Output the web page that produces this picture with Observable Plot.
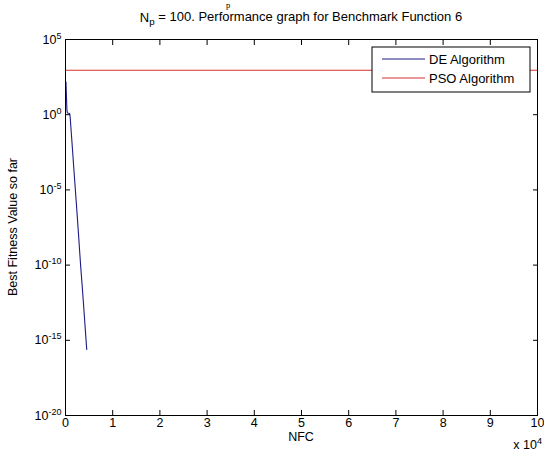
<!DOCTYPE html>
<html><head><meta charset="utf-8">
<script src="https://cdn.jsdelivr.net/npm/d3@7"></script>
<script src="https://cdn.jsdelivr.net/npm/@observablehq/plot@0.6"></script>
<style>
body{margin:0;background:#fff}
#chart svg{display:block;font-family:"Liberation Sans",Arial,sans-serif}
</style>
</head><body><div id="chart"></div>
<script>
const seriesNames = ["DE Algorithm", "PSO Algorithm"];
const seriesColors = ["#1c1c86", "#d63232"];
const deNFC = [100, 200, 300, 400, 900, 1000, 1250, 1500, 1750, 2000, 2250, 2500, 2750, 3000, 3250, 3500, 3750, 4000, 4250, 4500];
const deValues = [150, 16, 2.0, 1.3, 1.2, 0.6, 0.05, 4e-3, 3e-4, 2.5e-5, 2e-6, 1.6e-7, 1.2e-8, 8e-10, 6e-11, 6e-12, 5e-13, 4e-14, 3e-15, 2.5e-16];
const psoNFC = [0, 100000];
const psoValues = [900, 900];
const xTicks = [0, 10000, 20000, 30000, 40000, 50000, 60000, 70000, 80000, 90000, 100000];
const yTicks = [1e5, 1, 1e-5, 1e-10, 1e-15, 1e-20];
const titleMain = " = 100. Performance graph for Benchmark Function 6";
const xLabel = "NFC";
const yLabel = "Best Fitness Value so far";
const xExponentNote = "x 10^4";

(function () {
const rows = [];
deNFC.forEach((x, i) => rows.push({series: seriesNames[0], x, y: deValues[i]}));
psoNFC.forEach((x, i) => rows.push({series: seriesNames[1], x, y: psoValues[i]}));

const W = 544, H = 453;
const mL = 65, mR = 7, mT = 39, mB = 38;
const font = "Liberation Sans, Arial, sans-serif";

const plot = Plot.plot({
  width: W, height: H,
  marginLeft: mL, marginRight: mR, marginTop: mT, marginBottom: mB,
  style: {fontFamily: font, fontSize: "12px", color: "#000", background: "#fff"},
  x: {domain: [0, 100000]},
  y: {type: "log", domain: [1e-20, 1e5]},
  color: {domain: seriesNames, range: seriesColors},
  marks: [
    Plot.line(rows, {x: "x", y: "y", z: "series", stroke: "series", strokeWidth: 1.1}),
    Plot.axisX({anchor: "bottom", ticks: xTicks, tickSize: 0, tickPadding: 3, tickFormat: d => String(d / 1e4), fontSize: 12.5, label: null}),
    Plot.axisX({anchor: "bottom", ticks: xTicks, tickSize: -5, tickFormat: () => "", label: null}),
    Plot.axisX({anchor: "top", ticks: xTicks, tickSize: -5, tickFormat: () => "", label: null}),
    Plot.axisY({anchor: "left", ticks: yTicks, tickSize: 0, tickPadding: 4, tickFormat: d => "10^" + Math.round(Math.log10(d)), fontSize: 12.5, label: null}),
    Plot.axisY({anchor: "left", ticks: yTicks, tickSize: -5, tickFormat: () => "", label: null}),
    Plot.axisY({anchor: "right", ticks: yTicks, tickSize: -5, tickFormat: () => "", label: null}),
    Plot.frame({stroke: "#000", strokeWidth: 1})
  ]
});

const svg = d3.select(plot);

svg.selectAll("text").each(function() {
  const t = d3.select(this);
  const m = /^10\^(-?\d+)$/.exec(t.text());
  if (m) {
    t.text("10");
    t.append("tspan").attr("dy", "-0.55em").attr("font-size", "0.72em").text(m[1]);
  }
});

const pL = mL, pR = W - mR, pT = mT, pB = H - mB;
const cx = (pL + pR) / 2;

svg.append("text").attr("x", 228).attr("y", 7.5).attr("text-anchor", "middle")
  .attr("font-family", "Liberation Serif, serif").attr("font-size", 8.5).text("p");

const title = svg.append("text").attr("x", cx).attr("y", 22).attr("text-anchor", "middle")
  .attr("font-size", 13).attr("font-family", font);
title.append("tspan").text("N");
title.append("tspan").attr("dy", "0.35em").attr("font-size", "0.75em").text("p");
title.append("tspan").attr("dy", "-0.35em").text(titleMain);

svg.append("text").attr("x", cx).attr("y", pB + 26).attr("text-anchor", "middle")
  .attr("font-size", 12.5).attr("font-family", font).text(xLabel);
svg.append("text").attr("transform", `translate(17,${(pT + pB) / 2}) rotate(-90)`)
  .attr("text-anchor", "middle").attr("font-size", 12.5).attr("font-family", font).text(yLabel);
const note = svg.append("text").attr("x", W - 2).attr("y", H - 4).attr("text-anchor", "end")
  .attr("font-size", 12.5).attr("font-family", font);
const nm = /^(.*)\^(\d+)$/.exec(xExponentNote);
note.append("tspan").text(nm[1]);
note.append("tspan").attr("dy", "-0.55em").attr("font-size", "0.72em").text(nm[2]);

const lg = svg.append("g").attr("transform", `translate(${pR - 7 - 158},${pT + 8})`);
lg.append("rect").attr("width", 158).attr("height", 45).attr("fill", "#fff").attr("stroke", "#000");
seriesNames.forEach((name, i) => {
  const yy = 12 + i * 19;
  lg.append("line").attr("x1", 10).attr("x2", 53).attr("y1", yy).attr("y2", yy)
    .attr("stroke", seriesColors[i]).attr("stroke-width", 1.1);
  lg.append("text").attr("x", 57).attr("y", yy).attr("dy", "0.35em").attr("text-anchor", "start")
    .attr("font-size", 13).attr("font-family", font).text(name);
});

document.getElementById("chart").appendChild(plot);
})();
</script>
</body></html>
